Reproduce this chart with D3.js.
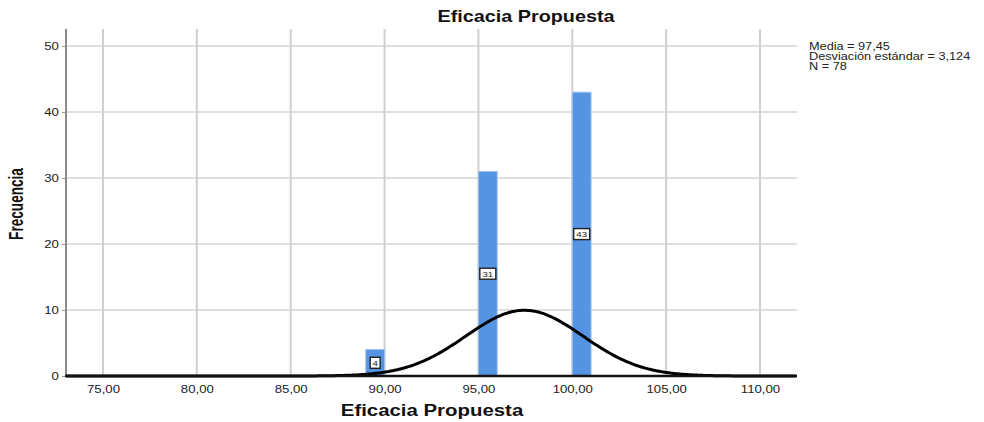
<!DOCTYPE html>
<html>
<head>
<meta charset="utf-8">
<script src="https://cdn.jsdelivr.net/npm/d3@7/dist/d3.min.js"></script>
<style>
  html, body { margin: 0; padding: 0; background: #fff; }
  svg { display: block; font-family: "Liberation Sans", Arial, sans-serif; }
</style>
</head>
<body>
<svg id="chart" width="984" height="422"></svg>
<script>
// Histogram of "Eficacia Propuesta" with a fitted normal curve
const binStarts = [89, 95, 100];
const binCounts = [4, 31, 43];
const binWidth = 1;
const xTicks = [75, 80, 85, 90, 95, 100, 105, 110];
const yTicks = [0, 10, 20, 30, 40, 50];
const mean = 97.45;
const sd = 3.124;
const n = 78;
const statLines = ["Media = 97,45", "Desviación estándar = 3,124", "N = 78"];

const svg = d3.select("#chart");
const plot = { left: 66, right: 797, top: 29, bottom: 376 };
const stretch = 1.2; // horizontal widening of all lettering

const x = d3.scaleLinear().domain([73.03, 111.97]).range([plot.left, plot.right]);
const y = d3.scaleLinear().domain([0, 50]).range([plot.bottom, 46]);

const fmt = v => d3.format(".2f")(v).replace(".", ",");

// grid
svg.append("g").selectAll("line").data(yTicks.filter(d => d > 0)).join("line")
  .attr("x1", plot.left).attr("x2", plot.right)
  .attr("y1", d => y(d)).attr("y2", d => y(d))
  .attr("stroke", "#d4d4d4").attr("stroke-width", 1.5);
svg.append("g").selectAll("line").data(xTicks).join("line")
  .attr("x1", d => x(d)).attr("x2", d => x(d))
  .attr("y1", plot.top).attr("y2", plot.bottom)
  .attr("stroke", "#d0d0d0").attr("stroke-width", 2);

// bars
const bins = binStarts.map((s, i) => ({ x0: s, x1: s + binWidth, count: binCounts[i] }));
svg.append("g").selectAll("rect").data(bins).join("rect")
  .attr("x", d => x(d.x0))
  .attr("y", d => y(d.count))
  .attr("width", d => x(d.x1) - x(d.x0))
  .attr("height", d => y(0) - y(d.count))
  .attr("fill", "#5593e3")
  .attr("stroke", "#9cc2ef").attr("stroke-width", 1);

// axes
const yAxis = d3.axisLeft(y).tickValues(yTicks).tickSize(4).tickFormat(d3.format("d"));
const gy = svg.append("g").attr("transform", `translate(${plot.left},0)`).call(yAxis);
gy.select(".domain").remove();
gy.selectAll(".tick line").attr("stroke", "#999");
gy.selectAll(".tick text").attr("font-size", 11).attr("fill", "#222")
  .attr("font-family", "Liberation Sans, Arial, sans-serif")
  .attr("x", -6).attr("transform", `scale(${stretch},1)`);
svg.append("line").attr("x1", plot.left).attr("x2", plot.left)
  .attr("y1", plot.top).attr("y2", plot.bottom)
  .attr("stroke", "#8a8a8a").attr("stroke-width", 2);

const xAxis = d3.axisBottom(x).tickValues(xTicks).tickSize(0).tickFormat(fmt);
const gx = svg.append("g").attr("transform", `translate(0,${plot.bottom})`).call(xAxis);
gx.select(".domain").remove();
gx.selectAll(".tick text").attr("font-size", 11).attr("fill", "#222")
  .attr("font-family", "Liberation Sans, Arial, sans-serif").attr("dy", "1.25em")
  .attr("transform", `scale(${stretch},1)`);

// normal curve
const curve = d3.range(73.03, 111.98, 0.1).map(v => [v,
  n * binWidth / (sd * Math.sqrt(2 * Math.PI)) * Math.exp(-0.5 * ((v - mean) / sd) ** 2)]);
svg.append("path").datum(curve)
  .attr("d", d3.line().x(d => x(d[0])).y(d => y(d[1])).curve(d3.curveBasis))
  .attr("fill", "none").attr("stroke", "#000").attr("stroke-width", 3);

svg.append("line").attr("x1", plot.left - 1).attr("x2", plot.right)
  .attr("y1", plot.bottom).attr("y2", plot.bottom)
  .attr("stroke", "#111").attr("stroke-width", 2.5);

// count labels
const lab = svg.append("g").selectAll("g").data(bins).join("g")
  .attr("transform", d => `translate(${(x(d.x0) + x(d.x1)) / 2},${y(d.count / 2)})`);
lab.append("rect")
  .attr("x", d => d.count >= 10 ? -8 : -5).attr("y", -5.5)
  .attr("width", d => d.count >= 10 ? 16 : 10).attr("height", 11)
  .attr("fill", "#fff").attr("stroke", "#222").attr("stroke-width", 1.4);
lab.append("text").text(d => d.count)
  .attr("text-anchor", "middle").attr("dy", "0.35em")
  .attr("transform", `scale(${stretch},1)`)
  .attr("font-size", 8).attr("fill", "#222");

// titles
svg.append("text").attr("transform", `translate(526,22) scale(${stretch},1)`)
  .attr("text-anchor", "middle")
  .attr("font-size", 16.5).attr("font-weight", "bold").attr("fill", "#111")
  .text("Eficacia Propuesta");
svg.append("text").attr("transform", `translate(432,416) scale(${stretch},1)`)
  .attr("text-anchor", "middle")
  .attr("font-size", 17).attr("font-weight", "bold").attr("fill", "#111")
  .text("Eficacia Propuesta");
svg.append("text").attr("transform", `translate(23,204) rotate(-90) scale(0.8,${stretch})`)
  .attr("text-anchor", "middle")
  .attr("font-size", 17).attr("font-weight", "bold").attr("fill", "#111")
  .text("Frecuencia");

// statistics box
svg.append("g").selectAll("text").data(statLines).join("text")
  .attr("transform", (d, i) => `translate(809,${50 + i * 10}) scale(1.27,1)`)
  .attr("font-size", 10).attr("fill", "#222")
  .text(d => d);
</script>
</body>
</html>
